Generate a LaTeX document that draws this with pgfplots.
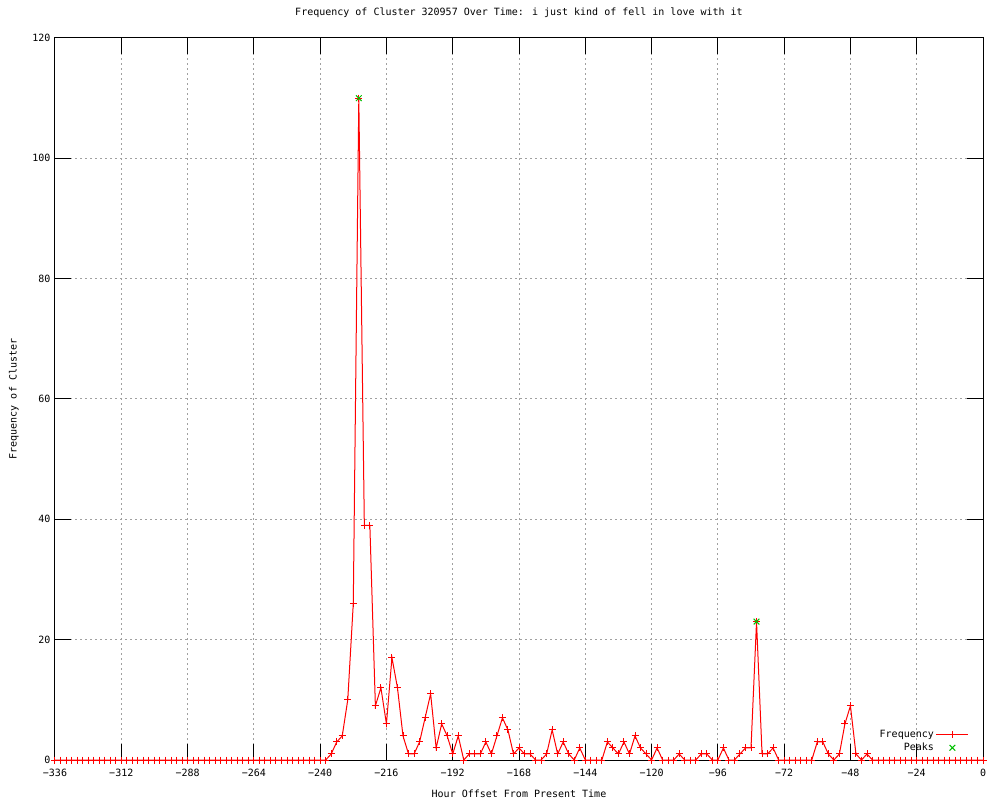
\documentclass[border=0pt]{standalone}
\usepackage{fontspec}
\setmainfont{DejaVu Sans Mono}
\usepackage{pgfplots}
\pgfplotsset{compat=1.18}
\definecolor{gpred}{RGB}{255,0,0}
\definecolor{gpgreen}{RGB}{0,192,0}
\definecolor{gpgrid}{RGB}{160,160,160}
\pgfplotstableread{
h v
-336 0
-334 0
-332 0
-330 0
-328 0
-326 0
-324 0
-322 0
-320 0
-318 0
-316 0
-314 0
-312 0
-310 0
-308 0
-306 0
-304 0
-302 0
-300 0
-298 0
-296 0
-294 0
-292 0
-290 0
-288 0
-286 0
-284 0
-282 0
-280 0
-278 0
-276 0
-274 0
-272 0
-270 0
-268 0
-266 0
-264 0
-262 0
-260 0
-258 0
-256 0
-254 0
-252 0
-250 0
-248 0
-246 0
-244 0
-242 0
-240 0
-238 0
-236 1
-234 3
-232 4
-230 10
-228 26
-226 110
-224 39
-222 39
-220 9
-218 12
-216 6
-214 17
-212 12
-210 4
-208 1
-206 1
-204 3
-202 7
-200 11
-198 2
-196 6
-194 4
-192 1
-190 4
-188 0
-186 1
-184 1
-182 1
-180 3
-178 1
-176 4
-174 7
-172 5
-170 1
-168 2
-166 1
-164 1
-162 0
-160 0
-158 1
-156 5
-154 1
-152 3
-150 1
-148 0
-146 2
-144 0
-142 0
-140 0
-138 0
-136 3
-134 2
-132 1
-130 3
-128 1
-126 4
-124 2
-122 1
-120 0
-118 2
-116 0
-114 0
-112 0
-110 1
-108 0
-106 0
-104 0
-102 1
-100 1
-98 0
-96 0
-94 2
-92 0
-90 0
-88 1
-86 2
-84 2
-82 23
-80 1
-78 1
-76 2
-74 0
-72 0
-70 0
-68 0
-66 0
-64 0
-62 0
-60 3
-58 3
-56 1
-54 0
-52 1
-50 6
-48 9
-46 1
-44 0
-42 1
-40 0
-38 0
-36 0
-34 0
-32 0
-30 0
-28 0
-26 0
-24 0
-22 0
-20 0
-18 0
-16 0
-14 0
-12 0
-10 0
-8 0
-6 0
-4 0
-2 0
0 0
}\freqdata
\pgfplotstableread{
h v
-226 110
-82 23
}\peakdata
\begin{document}
\fontsize{10pt}{12pt}\selectfont
\begin{tikzpicture}[x=1pt,y=1pt]
\useasboundingbox (-55,-40) rectangle (945,760);
\begin{axis}[
  at={(0,0)}, anchor=south west,
  scale only axis, width=928pt, height=722pt,
  xmin=-336, xmax=0, ymin=0, ymax=120,
  xtick={-336,-312,-288,-264,-240,-216,-192,-168,-144,-120,-96,-72,-48,-24,0},
  xticklabels={−336,−312,−288,−264,−240,−216,−192,−168,−144,−120,−96,−72,−48,−24,0},
  ytick={0,20,40,60,80,100,120},
  yticklabels={0,20,40,60,80,100,120},
  tick align=inside, major tick length=16pt,
  tick style={black, line width=1pt},
  axis line style={black, line width=1pt},
  grid=major,
  major grid style={gpgrid, line width=1pt, dash pattern=on 2pt off 3pt},
  tick label style={font=\fontsize{10pt}{12pt}\selectfont},
  xticklabel style={yshift=-6pt},
  yticklabel style={xshift=-1pt},
  title={Frequency of Cluster 320957 Over Time: i just kind of fell in love with it},
  title style={at={(axis description cs:0.5,1)}, anchor=base, yshift=16pt},
  xlabel={Hour Offset From Present Time},
  xlabel style={at={(axis description cs:0.5,0)}, anchor=base, yshift=-37pt},
  ylabel={Frequency of Cluster},
  ylabel style={at={(axis description cs:-0.0443,0.5)}, anchor=center, rotate=0},
  legend style={at={(axis description cs:0.985,0.044)}, anchor=north east,
    draw=none, fill=none, inner sep=0pt, row sep=0pt,
    font=\fontsize{10pt}{12pt}\selectfont},
  legend cell align=right,
  legend plot pos=right,
]
\addplot[gpred, line width=1pt, mark=+, mark size=3.5pt,
  legend image code/.code={\draw[mark repeat=2,mark phase=2] plot coordinates {(0pt,0pt) (16pt,0pt) (32pt,0pt)};}]
  table[x=h,y=v] {\freqdata};
\addlegendentry{Frequency}
\addplot[only marks, gpgreen, line width=1pt, mark=x, mark size=4pt,
  legend image code/.code={\draw[mark repeat=2,mark phase=2,only marks] plot coordinates {(0pt,0pt) (16pt,0pt) (32pt,0pt)};}]
  table[x=h,y=v] {\peakdata};
\addlegendentry{Peaks}
\end{axis}
\end{tikzpicture}
\end{document}
